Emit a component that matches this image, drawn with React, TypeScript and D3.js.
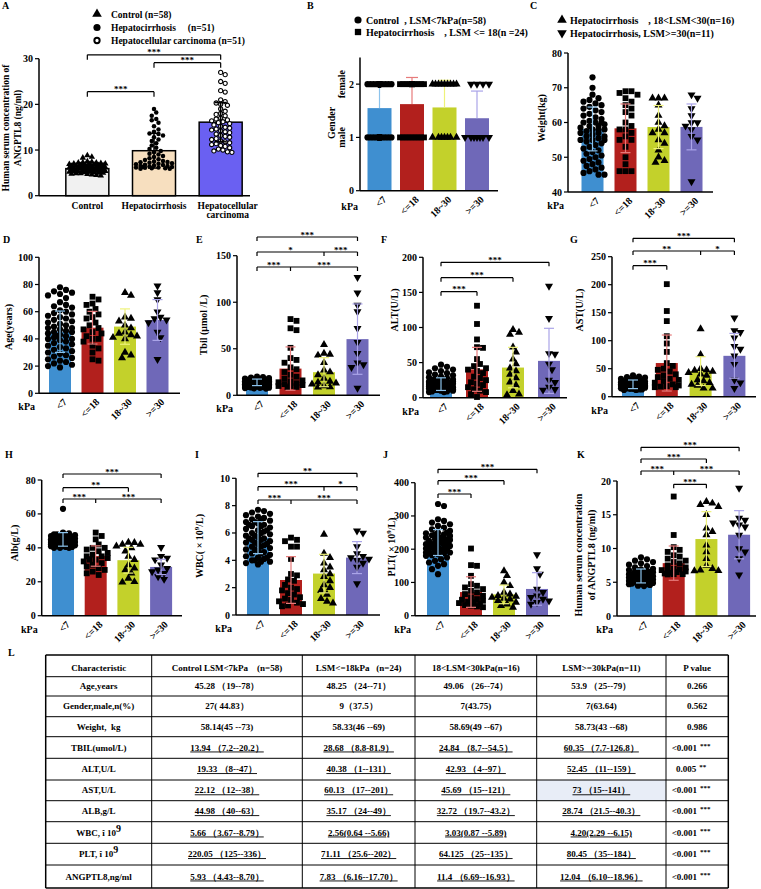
import React from 'react';
import * as d3 from 'd3';

const FONT = '"Liberation Serif", "Times New Roman", serif';

// ---------- categories ----------
const groupsA = ['Control', 'Hepatocirrhosis', 'Hepatocellular carcinoma'];
const groups4 = ['<7', '<=18', '18~30', '>=30'];
const colorsA = ['#f1f1f1', '#f7dfbf', '#6a60f2'];
const colors4 = ['#3f8fd0', '#b2201d', '#c3d12b', '#6f68b8'];
const errColors4 = ['#8cc3ec', '#e77b7b', '#eef27a', '#aaa4e8'];

// ---------- Panel A data ----------
const angA_control = [8.8, 8.5, 8.3, 7.5, 7.4, 7.3, 7.2, 7.2, 7.1, 7.0, 7.0, 6.9, 6.9, 6.8, 6.8, 6.7, 6.7, 6.6, 6.6, 6.5, 6.5, 6.4, 6.4, 6.3, 6.3, 6.2, 6.2, 6.1, 6.1, 6.0, 6.0, 5.9, 5.9, 5.8, 5.8, 5.7, 5.7, 5.6, 5.6, 5.5, 5.5, 5.4, 5.4, 5.3, 5.3, 5.2, 5.2, 5.1, 5.1, 5.0, 5.0, 4.9, 4.9, 4.8, 4.7, 4.6, 4.5, 4.4];
const angA_cirr = [19.0, 18.2, 17.5, 16.8, 16.5, 16.0, 15.2, 14.5, 14.0, 13.6, 13.5, 13.2, 12.8, 12.3, 12.0, 11.5, 11.0, 10.5, 10.2, 9.8, 9.5, 9.2, 9.0, 8.7, 8.5, 8.2, 8.0, 7.8, 7.6, 7.5, 7.4, 7.3, 7.2, 7.1, 7.0, 6.9, 6.8, 6.7, 6.6, 6.5, 6.5, 6.4, 6.3, 6.2, 6.2, 6.1, 6.0, 6.0, 5.9, 5.9, 6.3];
const angA_hcc = [27.0, 26.5, 25.0, 24.6, 23.0, 22.7, 21.0, 20.6, 20.3, 20.0, 19.8, 19.0, 18.5, 18.0, 17.8, 17.5, 17.0, 16.8, 16.6, 16.4, 16.2, 16.0, 15.8, 15.5, 15.2, 15.0, 14.8, 14.6, 14.4, 14.2, 14.0, 13.8, 13.5, 13.2, 13.0, 12.8, 12.5, 12.3, 12.0, 11.8, 11.6, 11.4, 11.2, 11.0, 10.8, 10.5, 10.2, 10.0, 9.8, 9.6, 9.5];
const angA_mean = [5.93, 9.85, 16.1];
const angA_sd = [0.9, 3.8, 4.3];

// ---------- Panel B (gender) ----------
const genderMaleCount = [27, 9, 7, 7];
const genderTotal = [58, 24, 16, 11];
const gender_mean = [1.55, 1.625, 1.5625, 1.36];
const gender_sd = [0.45, 0.5, 0.51, 0.51];

// ---------- Panel C weight ----------
const weight_control = [73, 70, 68, 67, 66.5, 66, 65.5, 65, 64.5, 64, 63.5, 63, 62.5, 62, 61.5, 61, 60.5, 60, 60, 59.5, 59, 59, 58.5, 58, 58, 57.5, 57, 57, 56.5, 56, 56, 55.5, 55, 55, 54.5, 54, 53.5, 53, 52.5, 52, 51.5, 51, 50.5, 50, 49.5, 49, 48.5, 48, 47.5, 47, 46.5, 46, 45.5, 45, 45, 60, 58, 55];
const weight_red = [69, 69, 68.5, 68, 67, 66, 65, 64, 63, 62, 60, 59, 58, 58, 57, 56, 55, 55, 53, 50, 48, 46, 46, 46];
const weight_yellow = [67, 67, 67, 65, 62, 60, 59, 58, 57, 57, 55, 54, 52, 50, 49, 48.5];
const weight_purple = [68, 67, 64, 62, 60, 60, 59, 58, 56, 55, 43];
const weight_mean = [58.14, 58.33, 58.69, 58.73];
const weight_sd = [6.3, 7.0, 6.2, 6.6];

// ---------- Panel D age ----------
const age_control = [78, 76, 75, 74, 73, 72, 70, 67, 65, 64, 63, 61, 60, 59, 58, 57, 56, 55, 54, 53, 52, 51, 50, 49, 48, 48, 47, 46, 45, 45, 44, 43, 42, 41, 40, 40, 39, 38, 37, 36, 35, 34, 33, 32, 31, 30, 29, 28, 27, 26, 25, 24, 23, 22, 21, 20, 19, 42];
const age_red = [71, 69, 66, 65, 62, 60, 58, 56, 55, 52, 50, 48, 47, 45, 44, 42, 40, 40, 38, 35, 33, 30, 25, 24];
const age_yellow = [74, 72, 56, 55, 53, 50, 48, 45, 44, 43, 42, 41, 40, 30, 28, 26];
const age_purple = [79, 74, 69, 60, 56, 55, 54, 52, 45, 41, 25];
const age_mean = [45.28, 48.25, 49.06, 53.9];
const age_sd = [15.2, 12, 13, 15];

// ---------- Panel E Tbil ----------
const tbil_control = [20.2, 19.5, 19, 18.5, 18, 17.5, 17.2, 17, 16.5, 16.2, 16, 15.5, 15.2, 15, 14.8, 14.5, 14.2, 14, 14, 13.8, 13.5, 13.5, 13.2, 13, 13, 12.8, 12.5, 12.5, 12.2, 12, 12, 11.8, 11.5, 11.5, 11.2, 11, 11, 10.8, 10.5, 10.2, 10, 10, 9.8, 9.5, 9.2, 9, 8.8, 8.5, 8.2, 8, 7.8, 7.5, 7.2, 14.5, 15.8, 12.7, 13.3, 16.8];
const tbil_red = [81.9, 80, 72, 70, 51, 40, 38, 35, 30, 28, 25, 22, 20, 18, 16, 15, 14, 13, 12, 11, 10, 10, 9, 8.8];
const tbil_yellow = [54.5, 45, 44, 43, 35, 27, 25, 22, 18, 15, 14, 13, 12, 10, 9, 8.7];
const tbil_purple = [126.8, 110, 97, 90, 72, 57, 45, 35, 33, 30, 7.7];
const tbil_mean = [13.94, 28.68, 24.84, 60.35];
const tbil_sd = [3.5, 23.3, 15.6, 37.8];

// ---------- Panel F ALT ----------
const alt_control = [47, 44, 42, 40, 38, 36, 35, 33, 32, 30, 29, 28, 27, 26, 25, 24, 23, 22, 22, 21, 21, 20, 20, 19, 19, 18, 18, 17, 17, 16, 16, 15, 15, 14, 14, 13, 13, 12, 12, 11, 11, 10, 10, 9, 9, 8, 8, 25, 23, 20, 18, 15, 14, 12, 17, 19, 21, 16];
const alt_red = [131, 105, 83, 72, 71, 55, 48, 45, 42, 40, 38, 35, 30, 28, 25, 22, 20, 18, 15, 12, 10, 8, 5, 1];
const alt_yellow = [97, 93, 90, 72, 65, 55, 48, 42, 38, 33, 28, 22, 18, 10, 5, 4];
const alt_purple = [159, 113, 63, 62, 48, 40, 25, 22, 15, 12, 11];
const alt_mean = [19.33, 40.38, 42.93, 52.45];
const alt_sd = [9, 31.3, 28.8, 46.4];

// ---------- Panel G AST ----------
const ast_control = [38, 36, 35, 34, 32, 31, 30, 29, 28, 28, 27, 27, 26, 26, 25, 25, 24, 24, 23, 23, 23, 22, 22, 22, 21, 21, 21, 20, 20, 20, 19, 19, 19, 18, 18, 18, 17, 17, 16, 16, 15, 15, 14, 14, 13, 13, 12, 12, 22, 24, 25, 20, 18, 21, 23, 19, 26, 17];
const ast_red = [201, 153, 135, 108, 95, 80, 60, 55, 50, 48, 45, 40, 38, 35, 32, 30, 28, 25, 22, 20, 19, 18, 17, 17];
const ast_yellow = [121, 75, 50, 48, 47, 45, 43, 40, 38, 30, 28, 25, 22, 20, 15, 15];
const ast_purple = [141, 118, 115, 105, 90, 85, 73, 58, 30, 25, 15];
const ast_mean = [22.12, 60.13, 45.69, 73];
const ast_sd = [7.7, 50, 25.7, 40];

// ---------- Panel H Alb ----------
const alb_control = [63, 49, 48.5, 48, 47.5, 47, 47, 46.5, 46.5, 46, 46, 45.5, 45.5, 45, 45, 45, 44.5, 44.5, 44, 44, 44, 43.5, 43.5, 43, 43, 43, 42.5, 42.5, 42, 42, 42, 41.5, 41.5, 41, 41, 41, 40.5, 40.5, 40, 40, 40, 45, 44, 46, 43, 42, 47, 48, 44, 45, 43, 41, 46, 42, 44, 45, 43, 47];
const alb_red = [49, 47, 45, 42, 40, 40, 39, 38, 37, 36, 35, 35, 34, 33, 33, 32, 31, 30, 29, 28, 27, 26, 25, 24];
const alb_yellow = [43.2, 43, 42, 42, 41, 40, 38, 35, 33, 30, 28, 27, 25, 22, 20, 19.7];
const alb_purple = [40.3, 35, 34, 33, 30, 28, 27, 26, 25, 23, 21.5];
const alb_mean = [44.98, 35.17, 32.72, 28.74];
const alb_sd = [4, 6, 7.6, 4.5];

// ---------- Panel I WBC ----------
const wbc_control = [7.7, 7.6, 7.5, 7.4, 7.3, 7.2, 7.1, 7.0, 6.9, 6.8, 6.7, 6.6, 6.5, 6.4, 6.3, 6.2, 6.1, 6.0, 5.9, 5.8, 5.7, 5.6, 5.5, 5.4, 5.3, 5.2, 5.1, 5.0, 4.9, 4.8, 4.7, 4.6, 4.5, 4.4, 4.3, 4.2, 4.1, 4.0, 3.9, 3.8, 3.7, 6.5, 6.0, 5.5, 5.0, 4.5, 6.2, 5.8, 5.2, 4.8, 7.0, 6.8, 4.2, 3.9, 5.6, 6.6, 4.0, 5.3];
const wbc_red = [5.66, 5.5, 5.4, 5.0, 5.0, 4.1, 3.0, 2.9, 2.6, 2.5, 2.2, 2.0, 1.9, 1.8, 1.6, 1.5, 1.3, 1.2, 1.1, 1.0, 0.9, 0.8, 0.7, 0.64];
const wbc_yellow = [5.89, 4.5, 4.2, 3.8, 3.5, 3.3, 3.0, 2.8, 2.5, 2.2, 2.0, 1.8, 1.5, 1.2, 1.0, 0.87];
const wbc_purple = [6.15, 6.0, 5.0, 4.5, 4.3, 4.2, 4.1, 4.0, 3.8, 3.5, 2.29];
const wbc_mean = [5.66, 2.56, 3.03, 4.2];
const wbc_sd = [1.17, 1.71, 1.41, 1.17];

// ---------- Panel J PLT ----------
const plt_control = [336, 330, 290, 285, 280, 275, 270, 265, 260, 255, 250, 248, 245, 242, 240, 238, 235, 232, 230, 228, 225, 222, 220, 218, 215, 212, 210, 208, 205, 202, 200, 198, 195, 192, 190, 188, 185, 182, 180, 175, 170, 165, 160, 155, 150, 140, 125, 225, 215, 235, 210, 220, 230, 205, 245, 200, 190, 250];
const plt_red = [202, 152, 150, 120, 95, 90, 85, 80, 75, 70, 65, 60, 55, 50, 48, 45, 42, 40, 38, 35, 32, 30, 28, 25.6];
const plt_yellow = [135, 120, 100, 90, 70, 65, 60, 58, 55, 52, 50, 45, 40, 35, 30, 25];
const plt_purple = [184, 142, 125, 80, 70, 60, 55, 50, 45, 40, 35];
const plt_mean = [220.05, 71.11, 64.125, 80.45];
const plt_sd = [39, 46, 28, 49];

// ---------- Panel K ANGPTL8 ----------
const ang_control = [8.7, 8.4, 8.2, 8.0, 7.8, 7.6, 7.4, 7.2, 7.0, 6.9, 6.8, 6.7, 6.6, 6.5, 6.4, 6.3, 6.2, 6.1, 6.0, 6.0, 5.9, 5.9, 5.8, 5.8, 5.7, 5.7, 5.6, 5.6, 5.5, 5.5, 5.4, 5.4, 5.3, 5.3, 5.2, 5.2, 5.1, 5.1, 5.0, 5.0, 4.9, 4.9, 4.8, 4.8, 4.7, 4.7, 4.6, 4.5, 4.43, 6.2, 5.8, 6.5, 5.4, 6.0, 5.6, 6.8, 5.2, 6.3];
const ang_red = [17.7, 12, 10.2, 9.8, 9.5, 9, 8.8, 8.5, 8.2, 8, 7.8, 7.5, 7.2, 7, 6.9, 6.8, 6.7, 6.6, 6.5, 6.4, 6.3, 6.2, 6.2, 6.16];
const ang_yellow = [16.93, 16.7, 16.5, 16.2, 15, 13, 12.5, 12, 10.5, 9.5, 8.5, 7.5, 7.0, 6.8, 6.7, 6.69];
const ang_purple = [18.96, 14.5, 14.2, 13.8, 13.5, 13.2, 12, 10, 9.5, 8.5, 6.1];
const ang_mean = [5.93, 7.83, 11.4, 12.04];
const ang_sd = [1.03, 2.54, 4.06, 3.57];

// ---------- Table L ----------
const tableHeader = ['Characteristic', 'Control LSM<7kPa    (n=58)', 'LSM<=18kPa   (n=24)', '18<LSM<30kPa(n=16)', 'LSM>=30kPa(n=11)', 'P value'];
const tableRowNames = ['Age,years', 'Gender,male,n(%)', 'Weight,  kg', 'TBIL(umol/L)', 'ALT,U/L', 'AST,U/L', 'ALB,g/L', 'WBC, î 10|9', 'PLT, î 10|9', 'ANGPTL8,ng/ml'];
const tableControl = ['45.28 （19--78）', '27( 44.83）', '58.14(45 --73)', '13.94 （7.2--20.2）', '19.33 （8--47）', '22.12 （12--38）', '44.98 （40--63）', '5.66 （3.67--8.79）', '220.05 （125--336）', '5.93 （4.43--8.70）'];
const tableLsm18 = ['48.25 （24--71）', '9（37.5）', '58.33(46 --69)', '28.68 （8.8-81.9）', '40.38 （1--131）', '60.13 （17--201）', '35.17 （24--49）', '2.56(0.64 --5.66)', '71.11 （25.6--202）', '7.83 （6.16--17.70）'];
const tableLsm30 = ['49.06 （26--74）', '7(43.75)', '58.69(49 --67)', '24.84 （8.7--54.5）', '42.93 （4--97）', '45.69 （15--121）', '32.72 （19.7--43.2）', '3.03(0.87 --5.89)', '64.125 （25--135）', '11.4 （6.69--16.93）'];
const tableLsmHigh = ['53.9 （25--79）', '7(63.64)', '58.73(43 --68)', '60.35 （7.7-126.8）', '52.45 （11--159）', '73 （15--141）', '28.74 （21.5--40.3）', '4.20(2.29 --6.15)', '80.45 （35--184）', '12.04 （6.10--18.96）'];
const tablePValue = ['0.266', '0.562', '0.986', '<0.001', '0.005', '<0.001', '<0.001', '<0.001', '<0.001', '<0.001'];
const tablePStars = ['', '', '', '***', '**', '***', '***', '***', '***', '***'];

// ---------- helpers ----------
type Pt = { x: number; y: number };
function swarm(values: number[], y: (v: number) => number, cx: number, size: number, maxHalf: number): Pt[] {
  const placed: Pt[] = [];
  const step = size * 0.5;
  const maxK = Math.max(0, Math.floor(maxHalf / step));
  const thresh = size * 0.95;
  for (const v of values) {
    const py = y(v);
    let best = 0;
    let bestD = -1;
    let done = false;
    for (let k = 0; k <= maxK && !done; k++) {
      const sg = k === 0 ? [1] : [1, -1];
      for (const s of sg) {
        const dx = s * k * step;
        let md = Infinity;
        for (const p of placed) {
          const d = Math.hypot(p.x - (cx + dx), p.y - py);
          if (d < md) md = d;
        }
        if (md >= thresh) { best = dx; done = true; break; }
        if (md > bestD) { bestD = md; best = dx; }
      }
    }
    placed.push({ x: cx + best, y: py });
  }
  return placed;
}

const shapes4 = [d3.symbolCircle, d3.symbolSquare, d3.symbolTriangle, d3.symbolTriangle];
const rot4 = [0, 0, 0, 180];

function Marker({ x, y, type, rot, size, fill = '#000', stroke = 'none', sw = 0 }: any) {
  const path = d3.symbol().type(type).size(size)() as string;
  return <path d={path} transform={`translate(${x},${y}) rotate(${rot})`} fill={fill} stroke={stroke} strokeWidth={sw} />;
}

type Bracket = { g: number[]; labels: string[]; y: number };

function Brackets({ list, x, tick = 4 }: { list: Bracket[]; x: (i: number) => number; tick?: number }) {
  return (
    <g>
      {list.map((b, bi) => {
        const xs = b.g.map(x);
        return (
          <g key={bi}>
            <line x1={xs[0]} x2={xs[xs.length - 1]} y1={b.y} y2={b.y} stroke="#000" strokeWidth={1.2} />
            {xs.map((xx, i) => (
              <line key={i} x1={xx} x2={xx} y1={b.y} y2={b.y + tick} stroke="#000" strokeWidth={1.2} />
            ))}
            {b.labels.map((l, i) => (
              <text key={i} x={(xs[i] + xs[i + 1]) / 2} y={b.y + 0.5} textAnchor="middle" fontSize={9} fontWeight="bold" fontFamily={FONT}>{l}</text>
            ))}
          </g>
        );
      })}
    </g>
  );
}

function YTitle({ lines, x, y, gap = 13, fs = 10 }: { lines: React.ReactNode[]; x: number; y: number; gap?: number; fs?: number }) {
  return (
    <g>
      {lines.map((l, i) => (
        <text key={i} transform={`translate(${x + i * gap},${y}) rotate(-90)`} textAnchor="middle" fontSize={fs} fontWeight="bold" fontFamily={FONT}>{l}</text>
      ))}
    </g>
  );
}

type Cfg4 = {
  axisX: number; y0: number; yTop: number; right: number; off: number; step: number;
  domain: [number, number]; ticks: number[];
  title: React.ReactNode[]; titleX: number; titleY: number;
  mean: number[]; sd: number[]; pts: number[][]; brackets: Bracket[];
};

function Panel4({ c }: { c: Cfg4 }) {
  const y = d3.scaleLinear().domain(c.domain).range([c.y0, c.yTop]);
  const start = c.axisX + c.off - c.step / 2;
  const x = d3.scalePoint<string>().domain(groups4).range([start, start + c.step * 4]).padding(0.5);
  const bw = 22;
  const xi = (i: number) => x(groups4[i]) as number;
  return (
    <g>
      {groups4.map((g, i) => (
        <rect key={g} x={xi(i) - bw / 2} y={y(c.mean[i])} width={bw} height={c.y0 - y(c.mean[i])} fill={colors4[i]} />
      ))}
      {c.pts.map((vals, i) =>
        swarm(vals, y, xi(i), 6, 13).map((p, j) => (
          <Marker key={`${i}-${j}`} x={p.x} y={p.y} type={shapes4[i]} rot={rot4[i]} size={i === 0 ? 30 : i === 1 ? 34 : 28} />
        ))
      )}
      {groups4.map((g, i) => {
        const hi = y(c.mean[i] + c.sd[i]);
        const lo = y(Math.max(c.domain[0], c.mean[i] - c.sd[i]));
        return (
          <g key={g} stroke={errColors4[i]} strokeWidth={1.2}>
            <line x1={xi(i)} x2={xi(i)} y1={hi} y2={lo} />
            <line x1={xi(i) - 5} x2={xi(i) + 5} y1={hi} y2={hi} />
            <line x1={xi(i) - 5} x2={xi(i) + 5} y1={lo} y2={lo} />
          </g>
        );
      })}
      <line x1={c.axisX} x2={c.axisX} y1={c.y0} y2={c.yTop} stroke="#000" strokeWidth={1.5} />
      <line x1={c.axisX} x2={c.right} y1={c.y0} y2={c.y0} stroke="#000" strokeWidth={1.5} />
      {c.ticks.map((t) => (
        <g key={t}>
          <line x1={c.axisX - 4} x2={c.axisX} y1={y(t)} y2={y(t)} stroke="#000" strokeWidth={1.2} />
          <text x={c.axisX - 6} y={y(t)} dy="0.35em" textAnchor="end" fontSize={10} fontWeight="bold" fontFamily={FONT}>{t}</text>
        </g>
      ))}
      {groups4.map((g, i) => (
        <text key={g} transform={`translate(${xi(i) + 5},${c.y0 + 7}) rotate(-45)`} dy="0.35em" textAnchor="end" fontSize={10} fontWeight="bold" fontFamily={FONT}>{g}</text>
      ))}
      <text x={c.axisX - 4} y={c.y0 + 17} textAnchor="end" fontSize={10} fontWeight="bold" fontFamily={FONT}>kPa</text>
      <YTitle lines={c.title} x={c.titleX} y={c.titleY} />
      <Brackets list={c.brackets} x={xi} />
    </g>
  );
}

function PanelA() {
  const axisX = 39, y0 = 195.7, yTop = 58.7, right = 250;
  const y = d3.scaleLinear().domain([0, 30]).range([y0, yTop]);
  const x = d3.scalePoint<string>().domain(groupsA).range([54, 254]).padding(0.5);
  const xi = (i: number) => x(groupsA[i]) as number;
  const bw = 43;
  const data = [angA_control, angA_cirr, angA_hcc];
  const brackets: Bracket[] = [
    { g: [0, 1], labels: ['***'], y: 91.7 },
    { g: [1, 2], labels: ['***'], y: 62.7 },
    { g: [0, 2], labels: ['***'], y: 54.8 },
  ];
  return (
    <g>
      {groupsA.map((g, i) => (
        <rect key={g} x={xi(i) - bw / 2} y={y(angA_mean[i])} width={bw} height={y0 - y(angA_mean[i])} fill={colorsA[i]} stroke="#000" strokeWidth={1.5} />
      ))}
      {data.map((vals, i) =>
        swarm(vals, y, xi(i), 4.5, 20).map((p, j) =>
          i === 0 ? <Marker key={`${i}-${j}`} x={p.x} y={p.y} type={d3.symbolTriangle} rot={0} size={18} />
            : i === 1 ? <Marker key={`${i}-${j}`} x={p.x} y={p.y} type={d3.symbolCircle} rot={0} size={16} />
              : <Marker key={`${i}-${j}`} x={p.x} y={p.y} type={d3.symbolCircle} rot={0} size={14} fill="#fff" stroke="#000" sw={1.1} />
        )
      )}
      {groupsA.map((g, i) => {
        const hi = y(angA_mean[i] + angA_sd[i]);
        const lo = y(angA_mean[i] - angA_sd[i]);
        return (
          <g key={g} stroke="#000" strokeWidth={1.5}>
            <line x1={xi(i)} x2={xi(i)} y1={hi} y2={lo} />
            <line x1={xi(i) - 6} x2={xi(i) + 6} y1={hi} y2={hi} />
            <line x1={xi(i) - 6} x2={xi(i) + 6} y1={lo} y2={lo} />
          </g>
        );
      })}
      <line x1={axisX} x2={axisX} y1={y0} y2={yTop} stroke="#000" strokeWidth={1.5} />
      <line x1={axisX} x2={right} y1={y0} y2={y0} stroke="#000" strokeWidth={1.5} />
      {[0, 10, 20, 30].map((t) => (
        <g key={t}>
          <line x1={axisX - 4} x2={axisX} y1={y(t)} y2={y(t)} stroke="#000" strokeWidth={1.2} />
          <text x={axisX - 6} y={y(t)} dy="0.35em" textAnchor="end" fontSize={10} fontWeight="bold" fontFamily={FONT}>{t}</text>
        </g>
      ))}
      <text x={xi(0)} y={209} textAnchor="middle" fontSize={9.5} fontWeight="bold" fontFamily={FONT}>Control</text>
      <text x={xi(1)} y={209} textAnchor="middle" fontSize={9.5} fontWeight="bold" fontFamily={FONT}>Hepatocirrhosis</text>
      <text x={xi(2) + 7} y={209} textAnchor="middle" fontSize={9.5} fontWeight="bold" fontFamily={FONT}>Hepatocellular</text>
      <text x={xi(2) + 7} y={218} textAnchor="middle" fontSize={9.5} fontWeight="bold" fontFamily={FONT}>carcinoma</text>
      <YTitle lines={['Human serum concentration of', 'ANGPTL8  (ng/ml)']} x={9} y={128} gap={12} fs={9.5} />
      <Brackets list={brackets} x={xi} tick={5} />
      {/* legend */}
      <Marker x={97} y={14} type={d3.symbolTriangle} rot={0} size={40} />
      <text x={111} y={17.5} fontSize={9.5} fontWeight="bold" fontFamily={FONT}>Control (n=58)</text>
      <Marker x={97} y={27.5} type={d3.symbolCircle} rot={0} size={40} />
      <text x={111} y={31} fontSize={9.5} fontWeight="bold" fontFamily={FONT} xmlSpace="preserve">Hepatocirrhosis     (n=51)</text>
      <Marker x={97} y={40.5} type={d3.symbolCircle} rot={0} size={22} fill="#fff" stroke="#000" sw={2} />
      <text x={111} y={44} fontSize={9.5} fontWeight="bold" fontFamily={FONT}>Hepatocellular carcinoma (n=51)</text>
    </g>
  );
}

function PanelB() {
  const axisX = 360, y0 = 190.7, yTop = 57.5, right = 498;
  const y = d3.scaleLinear().domain([0, 2.5]).range([y0, yTop]);
  const off = 19.5, step = 32.5;
  const start = axisX + off - step / 2;
  const x = d3.scalePoint<string>().domain(groups4).range([start, start + step * 4]).padding(0.5);
  const xi = (i: number) => x(groups4[i]) as number;
  const bw = 24;
  const pts = genderTotal.map((n, i) => {
    const m = genderMaleCount[i];
    return d3.range(n).map((k) => (k < m ? 1 : 2));
  });
  return (
    <g>
      {groups4.map((g, i) => (
        <rect key={g} x={xi(i) - bw / 2} y={y(gender_mean[i])} width={bw} height={y0 - y(gender_mean[i])} fill={colors4[i]} />
      ))}
      {groups4.map((g, i) => {
        const hi = y(gender_mean[i] + gender_sd[i]);
        return (
          <g key={g} stroke={errColors4[i]} strokeWidth={1.2}>
            <line x1={xi(i)} x2={xi(i)} y1={hi} y2={y(gender_mean[i])} />
            <line x1={xi(i) - 6} x2={xi(i) + 6} y1={hi} y2={hi} />
          </g>
        );
      })}
      {pts.map((vals, i) =>
        swarm(vals, y, xi(i), 6, 13).map((p, j) => (
          <Marker key={`${i}-${j}`} x={p.x} y={p.y} type={shapes4[i]} rot={rot4[i]} size={i === 0 ? 30 : i === 1 ? 34 : 28} />
        ))
      )}
      <line x1={axisX} x2={axisX} y1={y0} y2={yTop} stroke="#000" strokeWidth={1.5} />
      <line x1={axisX} x2={right} y1={y0} y2={y0} stroke="#000" strokeWidth={1.5} />
      {[0, 1, 2].map((t) => (
        <g key={t}>
          <line x1={axisX - 4} x2={axisX} y1={y(t)} y2={y(t)} stroke="#000" strokeWidth={1.2} />
          <text x={axisX - 6} y={y(t)} dy="0.35em" textAnchor="end" fontSize={10} fontWeight="bold" fontFamily={FONT}>{t}</text>
        </g>
      ))}
      {groups4.map((g, i) => (
        <text key={g} transform={`translate(${xi(i) + 5},${y0 + 7}) rotate(-45)`} dy="0.35em" textAnchor="end" fontSize={10} fontWeight="bold" fontFamily={FONT}>{g}</text>
      ))}
      <text x={axisX - 2} y={y0 + 19} textAnchor="end" fontSize={10} fontWeight="bold" fontFamily={FONT}>kPa</text>
      <YTitle lines={['Gender']} x={335} y={123} />
      <YTitle lines={['female']} x={345} y={y(2)} />
      <YTitle lines={['male']} x={345} y={y(1)} />
      <Marker x={358} y={20} type={d3.symbolCircle} rot={0} size={40} />
      <text x={366} y={23.5} fontSize={10} fontWeight="bold" fontFamily={FONT} xmlSpace="preserve">Control  , LSM&lt;7kPa(n=58)</text>
      <Marker x={358} y={32} type={d3.symbolSquare} rot={0} size={40} />
      <text x={366} y={35.5} fontSize={10} fontWeight="bold" fontFamily={FONT} xmlSpace="preserve">Hepatocirrhosis    , LSM &lt;= 18(n =24)</text>
    </g>
  );
}

function Table() {
  const cols = [45.7, 151.7, 302.3, 415, 536.7, 666, 728.3];
  const rows = [655, 676.7, 696, 716.7, 736.7, 758.3, 780, 800.7, 821.7, 843.3, 865, 888];
  const colData = [tableControl, tableLsm18, tableLsm30, tableLsmHigh];
  const fs = 9;
  return (
    <g fontFamily={FONT} fontWeight="bold" fontSize={fs}>
      <rect x={cols[4]} y={rows[6]} width={cols[5] - cols[4]} height={rows[7] - rows[6]} fill="#e8edf7" />
      {rows.map((r, i) => (
        <line key={i} x1={cols[0]} x2={cols[6]} y1={r} y2={r} stroke="#000" strokeWidth={i === 0 || i === rows.length - 1 ? 1.5 : 1} />
      ))}
      {cols.map((c, i) => (
        <line key={i} x1={c} x2={c} y1={rows[0]} y2={rows[rows.length - 1]} stroke="#000" strokeWidth={i === 0 || i === cols.length - 1 ? 1.5 : 1} />
      ))}
      {tableHeader.map((h, i) => (
        <text key={i} x={(cols[i] + cols[i + 1]) / 2} y={(rows[0] + rows[1]) / 2 + 5} textAnchor="middle" xmlSpace="preserve">{h}</text>
      ))}
      {tableRowNames.map((name, r) => {
        const cy = (rows[r + 1] + rows[r + 2]) / 2 + 3;
        const parts = name.split('|');
        return (
          <g key={r}>
            <text x={(cols[0] + cols[1]) / 2} y={cy} textAnchor="middle" xmlSpace="preserve">
              {parts[0]}
              {parts[1] ? <tspan dy={-4} fontSize={10}>{parts[1]}</tspan> : null}
            </text>
            {colData.map((col, ci) => (
              <text key={ci} x={(cols[ci + 1] + cols[ci + 2]) / 2} y={cy} textAnchor="middle" xmlSpace="preserve"
                style={{ textDecoration: r >= 3 ? 'underline' : 'none' }}>{col[r]}</text>
            ))}
            <text x={(cols[5] + cols[6]) / 2 - (tablePStars[r] ? 6 : 0)} y={cy} textAnchor="middle">
              {tablePValue[r]}
              {tablePStars[r] ? <tspan dx={3} dy={-3} fontSize={7}>{tablePStars[r]}</tspan> : null}
            </text>
          </g>
        );
      })}
    </g>
  );
}

const sup9 = (pre: string) => (
  <>{pre}<tspan dy={-4} fontSize={7}>9</tspan><tspan dy={4}>/L)</tspan></>
);

const panelsConfig: Cfg4[] = [
  { // C
    axisX: 568, y0: 192, yTop: 53, right: 713, off: 24.5, step: 33, domain: [40, 80], ticks: [40, 50, 60, 70, 80],
    title: ['Weight(kg)'], titleX: 545, titleY: 118, mean: weight_mean, sd: weight_sd,
    pts: [weight_control, weight_red, weight_yellow, weight_purple], brackets: [],
  },
  { // D
    axisX: 39, y0: 393.3, yTop: 257.3, right: 180, off: 21, step: 32.5, domain: [0, 100], ticks: [0, 20, 40, 60, 80, 100],
    title: ['Age(years)'], titleX: 12, titleY: 327, mean: age_mean, sd: age_sd,
    pts: [age_control, age_red, age_yellow, age_purple], brackets: [],
  },
  { // E
    axisX: 237, y0: 395.3, yTop: 255.7, right: 380, off: 20, step: 33.5, domain: [0, 150], ticks: [0, 50, 100, 150],
    title: ['Tbil  (μmol /L)'], titleX: 207, titleY: 325, mean: tbil_mean, sd: tbil_sd,
    pts: [tbil_control, tbil_red, tbil_yellow, tbil_purple],
    brackets: [
      { g: [0, 1, 3], labels: ['***', '***'], y: 267 },
      { g: [0, 2, 3], labels: ['*', '***'], y: 252 },
      { g: [0, 3], labels: ['***'], y: 237 },
    ],
  },
  { // F
    axisX: 423, y0: 397.7, yTop: 257.3, right: 567, off: 18, step: 36, domain: [0, 200], ticks: [0, 50, 100, 150, 200],
    title: ['ALT(U/L)'], titleX: 398, titleY: 310, mean: alt_mean, sd: alt_sd,
    pts: [alt_control, alt_red, alt_yellow, alt_purple],
    brackets: [
      { g: [0, 1], labels: ['***'], y: 291.7 },
      { g: [0, 2], labels: ['***'], y: 277.7 },
      { g: [0, 3], labels: ['***'], y: 262.3 },
    ],
  },
  { // G
    axisX: 612, y0: 396.7, yTop: 256.7, right: 756, off: 21, step: 33.8, domain: [0, 250], ticks: [0, 50, 100, 150, 200, 250],
    title: ['AST(U/L)'], titleX: 583, titleY: 310, mean: ast_mean, sd: ast_sd,
    pts: [ast_control, ast_red, ast_yellow, ast_purple],
    brackets: [
      { g: [0, 1], labels: ['***'], y: 265.7 },
      { g: [0, 2, 3], labels: ['**', '*'], y: 251 },
      { g: [0, 3], labels: ['***'], y: 238.3 },
    ],
  },
  { // H
    axisX: 41.7, y0: 615.7, yTop: 480, right: 182, off: 21.3, step: 32.7, domain: [0, 80], ticks: [0, 20, 40, 60, 80],
    title: ['Alb(g/L)'], titleX: 18, titleY: 543, mean: alb_mean, sd: alb_sd,
    pts: [alb_control, alb_red, alb_yellow, alb_purple],
    brackets: [
      { g: [0, 1, 3], labels: ['***', '***'], y: 499 },
      { g: [0, 2], labels: ['**'], y: 487.7 },
      { g: [0, 3], labels: ['***'], y: 474 },
    ],
  },
  { // I
    axisX: 236, y0: 615, yTop: 478.3, right: 380, off: 22, step: 33, domain: [0, 10], ticks: [0, 2, 4, 6, 8, 10],
    title: [sup9('WBC( × 10')], titleX: 203, titleY: 546, mean: wbc_mean, sd: wbc_sd,
    pts: [wbc_control, wbc_red, wbc_yellow, wbc_purple],
    brackets: [
      { g: [0, 1, 3], labels: ['***', '***'], y: 500 },
      { g: [0, 2, 3], labels: ['***', '*'], y: 486.7 },
      { g: [0, 3], labels: ['**'], y: 473.3 },
    ],
  },
  { // J
    axisX: 415, y0: 615.7, yTop: 482.7, right: 560, off: 23, step: 33, domain: [0, 400], ticks: [0, 100, 200, 300, 400],
    title: [sup9('PLT( × 10')], titleX: 395, titleY: 547, mean: plt_mean, sd: plt_sd,
    pts: [plt_control, plt_red, plt_yellow, plt_purple],
    brackets: [
      { g: [0, 1], labels: ['***'], y: 494 },
      { g: [0, 2], labels: ['***'], y: 480.7 },
      { g: [0, 3], labels: ['***'], y: 469.3 },
    ],
  },
  { // K
    axisX: 617, y0: 616, yTop: 481, right: 756, off: 24, step: 32.7, domain: [0, 20], ticks: [0, 5, 10, 15, 20],
    title: ['Human serum concentration', 'of ANGPTL8   (ng/ml)'], titleX: 582, titleY: 555, mean: ang_mean, sd: ang_sd,
    pts: [ang_control, ang_red, ang_yellow, ang_purple],
    brackets: [
      { g: [1, 2], labels: ['***'], y: 484.3 },
      { g: [0, 1, 3], labels: ['***', '***'], y: 471 },
      { g: [0, 2], labels: ['***'], y: 459 },
      { g: [0, 3], labels: ['***'], y: 447.3 },
    ],
  },
];

const letters: [string, number, number][] = [
  ['A', 2, 9], ['B', 307, 9], ['C', 530, 9],
  ['D', 3, 243], ['E', 196, 243], ['F', 381, 243], ['G', 570, 243],
  ['H', 5, 458], ['I', 195, 458], ['J', 383, 458], ['K', 577, 458],
  ['L', 8, 656],
];

export default function App() {
  return (
    <svg width={761} height={889} style={{ position: 'absolute', left: 0, top: 0, background: '#fff' }} fontFamily={FONT}>
      <rect width={761} height={889} fill="#fff" />
      {letters.map(([l, x, y]) => (
        <text key={l} x={x} y={y} fontSize={10} fontWeight="bold" fontFamily={FONT}>{l}</text>
      ))}
      <PanelA />
      <PanelB />
      {panelsConfig.map((c, i) => <Panel4 key={i} c={c} />)}
      {/* legend C */}
      <Marker x={562} y={20} type={d3.symbolTriangle} rot={0} size={40} />
      <text x={570} y={23.5} fontSize={10} fontWeight="bold" fontFamily={FONT} xmlSpace="preserve">Hepatocirrhosis    , 18&lt;LSM&lt;30(n=16)</text>
      <Marker x={562} y={33} type={d3.symbolTriangle} rot={180} size={40} />
      <text x={570} y={36.5} fontSize={10} fontWeight="bold" fontFamily={FONT}>Hepatocirrhosis, LSM&gt;=30(n=11)</text>
      <Table />
    </svg>
  );
}
